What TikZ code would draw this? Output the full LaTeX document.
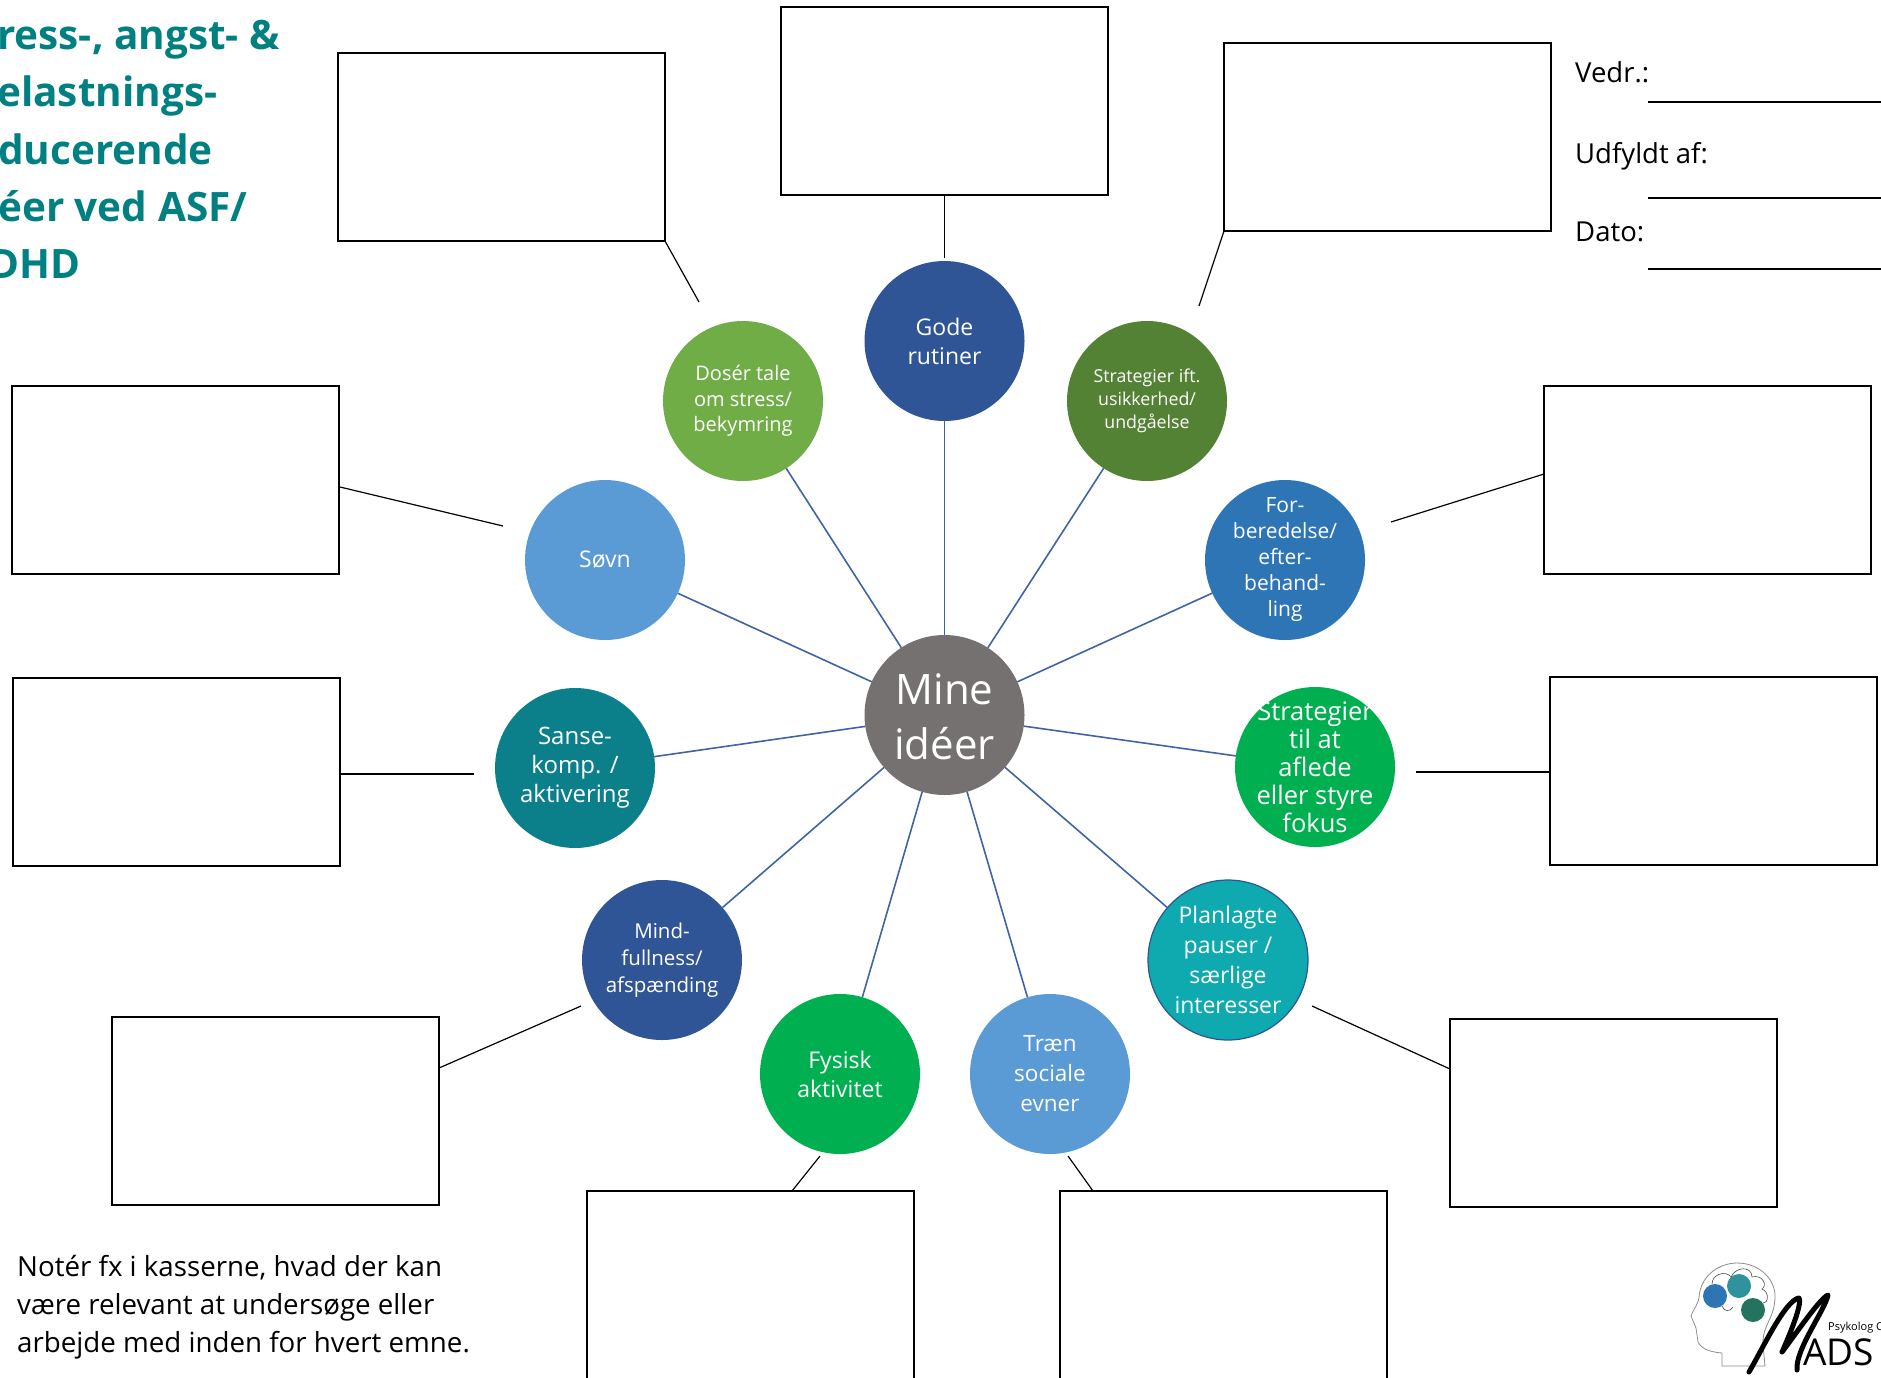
\documentclass[tikz,border=0pt]{standalone}
\usepackage{fontspec}
\setmainfont{Open Sans}
\newfontfamily\titlefont{Open Sans}
\definecolor{teal1}{HTML}{008080}
\definecolor{spoke}{HTML}{3F64A6}
\definecolor{cGray}{HTML}{767171}
\definecolor{cNavy}{HTML}{2F5597}
\definecolor{cLeaf}{HTML}{70AD47}
\definecolor{cMoss}{HTML}{548235}
\definecolor{cSky}{HTML}{5B9BD5}
\definecolor{cBlue}{HTML}{2E75B6}
\definecolor{cPetrol}{HTML}{0B7F8A}
\definecolor{cGreen}{HTML}{00B050}
\definecolor{cAqua}{HTML}{0FA9B0}
\tikzset{
  bub/.style={circle,fill=#1,minimum size=160pt,inner sep=-60pt,outer sep=0pt,
    text=white,align=center,font=\fontsize{23}{29}\selectfont},
  box/.style={draw=black,line width=2.8pt,fill=white,minimum width=327pt,minimum height=188pt,
    inner sep=0pt,outer sep=0pt},
  spokeline/.style={draw=spoke,line width=1.6pt},
  tie/.style={draw=black,line width=1.2pt},
  ttl/.style={anchor=base west,inner sep=0pt,text=teal1,font=\titlefont\fontsize{40.5}{46}\bfseries\selectfont},
  form/.style={anchor=base west,inner sep=0pt,font=\fontsize{27.5}{32}\selectfont},
  note/.style={anchor=base west,inner sep=0pt,font=\fontsize{27.7}{32}\selectfont},
  logoline/.style={draw=black!45,line width=0.8pt},
  logobrain/.style={draw=black!70,line width=0.6pt},
  logoM/.style={draw=black,line width=5pt,line cap=round,line join=round},
}
\begin{document}
\begin{tikzpicture}[x=1pt,y=-1pt]
\clip (0,0) rectangle (1881,1377);
% title
\node[ttl] (t1) at (-3,49) {ress-, angst- \&};
\node[ttl] (t2) at (-3,106) {elastnings-};
\node[ttl] (t3) at (-2,164) {ducerende};
\node[ttl] (t4) at (-2,221) {éer ved ASF/};
\node[ttl] (t5) at (-11,278) {DHD};
% boxes
\node[box,anchor=north west] (bTL) at (338,53) {};
\node[box,anchor=north west] (bT) at (781,7) {};
\node[box,anchor=north west] (bTR) at (1224,43) {};
\node[box,anchor=north west] (bR1) at (1544,386) {};
\node[box,anchor=north west] (bR2) at (1550,677) {};
\node[box,anchor=north west] (bR3) at (1450,1019) {};
\node[box,anchor=north west] (bBR) at (1060,1191) {};
\node[box,anchor=north west] (bBL) at (587,1191) {};
\node[box,anchor=north west] (bL3) at (112,1017) {};
\node[box,anchor=north west] (bL2) at (13,678) {};
\node[box,anchor=north west] (bL1) at (12,386) {};
% bubbles
\path (944.5,715) coordinate (mc);
\node[bub=cGray,font=\fontsize{42}{55}\selectfont] (mine) at (mc) {\raisebox{-12.7pt}[0pt][0pt]{\begin{tabular}{@{}c@{}}Mine\\idéer\end{tabular}}};
\node[bub=cNavy] (gode) at (944.5,341) {Gode\\rutiner};
\node[bub=cLeaf,font=\fontsize{20}{25.5}\selectfont] (dos) at (743,401) {Dosér tale\\om stress/\\bekymring};
\node[bub=cMoss,font=\fontsize{17.8}{23}\selectfont] (usi) at (1147,401) {Strategier ift.\\usikkerhed/\\undgåelse};
\node[bub=cSky] (sov) at (605,560) {Søvn};
\node[bub=cBlue,font=\fontsize{21}{26}\selectfont] (forb) at (1285,560) {For-\\beredelse/\\efter-\\behand-\\ling};
\node[bub=cPetrol,font=\fontsize{24}{29}\selectfont] (san) at (575,768) {Sanse-\\komp. /\\aktivering};
\node[bub=cGreen,font=\fontsize{25.5}{28}\selectfont] (afl) at (1315,767) {Strategier\\til at\\aflede\\eller styre\\fokus};
\node[bub=cNavy,font=\fontsize{20.5}{27}\selectfont] (mind) at (662,960) {Mind-\\fullness/\\afspænding};
\node[bub=cAqua,draw=cNavy,line width=1.2pt,font=\fontsize{23}{30}\selectfont] (pau) at (1228,960) {Planlagte\\pauser /\\særlige\\interesser};
\node[bub=cGreen] (fys) at (840,1074) {Fysisk\\aktivitet};
\node[bub=cSky,font=\fontsize{22.5}{30}\selectfont] (tra) at (1050,1074) {Træn\\sociale\\evner};
% spokes
\foreach \n in {gode,dos,usi,sov,forb,san,afl,mind,pau,fys,tra}
  \draw[spokeline] (mine) -- (\n);
% free ends of ties
\coordinate (eTL) at (699,302);
\coordinate (eT) at (944.5,258);
\coordinate (eTR) at (1199,306);
\coordinate (eR1) at (1391,522);
\coordinate (eR2) at (1416,772);
\coordinate (eR3) at (1312,1006);
\coordinate (eBR) at (1068,1156);
\coordinate (eBL) at (820,1156);
\coordinate (eL3) at (581,1006);
\coordinate (eL2) at (474,774);
\coordinate (eL1) at (503,526);
\draw[tie] (bTL.south east) -- (eTL);
\draw[tie] (bT.south) -- (eT);
\draw[tie] (bTR.south west) -- (eTR);
\draw[tie] (1544,474) -- (eR1);
\draw[tie] (1550,772) -- (eR2);
\draw[tie] (1450,1069) -- (eR3);
\draw[tie] (1093,1191) -- (eBR);
\draw[tie] (792,1191) -- (eBL);
\draw[tie] (439,1068) -- (eL3);
\draw[tie] (341,774) -- (eL2);
\draw[tie] (340,487) -- (eL1);
% form
\node[form] (f1) at (1575,82) {Vedr.:};
\node[form] (f2) at (1575,163) {Udfyldt af:};
\node[form] (f3) at (1575,241) {Dato:};
\coordinate (l1a) at (1648,102); \coordinate (l1b) at (1881,102);
\coordinate (l2a) at (1648,198); \coordinate (l2b) at (1881,198);
\coordinate (l3a) at (1648,269); \coordinate (l3b) at (1881,269);
\draw[tie] (l1a) -- (l1b);
\draw[tie] (l2a) -- (l2b);
\draw[tie] (l3a) -- (l3b);
% note
\node[note] (n1) at (17,1276) {Notér fx i kasserne, hvad der kan};
\node[note] (n2) at (17,1314) {være relevant at undersøge eller};
\node[note] (n3) at (17,1352) {arbejde med inden for hvert emne.};
% logo
\fill[cBlue] (1715,1296) circle (12);
\fill[cPetrol!85] (1739,1286) circle (12);
\fill[cMoss!40!cPetrol!90!black] (1753,1310) circle (12);
\draw[logoline] (1722,1366) -- (1722,1353) .. controls (1712,1352) and (1702,1350) .. (1698,1342)
  -- (1696,1328) -- (1691,1316) .. controls (1692,1312) and (1697,1306) .. (1699,1298)
  .. controls (1700,1275) and (1720,1263) .. (1737,1263)
  .. controls (1760,1263) and (1776,1280) .. (1775,1298)
  .. controls (1774,1320) and (1762,1325) .. (1763,1345) -- (1765,1366) -- cycle;
\draw[logobrain] (1712,1284) .. controls (1712,1274) and (1726,1270) .. (1731,1277)
  .. controls (1736,1266) and (1752,1266) .. (1752,1277)
  .. controls (1762,1274) and (1768,1285) .. (1762,1289)
  .. controls (1770,1292) and (1768,1304) .. (1763,1303);
\draw[logobrain] (1722,1306) .. controls (1724,1312) and (1730,1312) .. (1733,1307);
\draw[logoM] (1749,1372) .. controls (1762,1350) and (1785,1300) .. (1799,1298)
  .. controls (1803,1305) and (1785,1345) .. (1782,1352)
  .. controls (1795,1335) and (1820,1298) .. (1828,1295)
  .. controls (1825,1310) and (1795,1350) .. (1797,1370);
\node[anchor=base west,inner sep=0pt,font=\fontsize{11}{13}\selectfont] (lg1) at (1828,1330) {Psykolog C};
\node[anchor=base west,inner sep=0pt,font=\fontsize{37}{40}\selectfont] (lg2) at (1803,1365) {ADS};
\end{tikzpicture}
\end{document}
